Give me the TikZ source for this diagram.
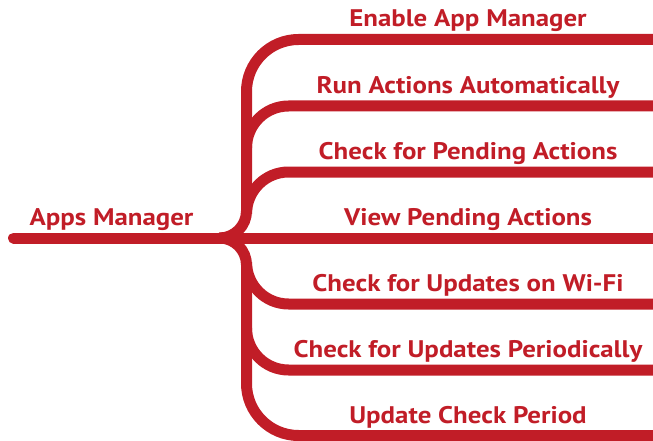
\documentclass[tikz,border=0pt]{standalone}
\usepackage{fontspec}
\setmainfont{PT Sans}[FakeStretch=1.12]
\definecolor{mapred}{RGB}{193,29,39}
\begin{document}
\begin{tikzpicture}[x=1pt,y=1pt,
  limb/.style={draw=mapred,line width=11pt},
  lbl/.style={text=mapred,font=\bfseries\fontsize{24}{28}\selectfont,anchor=base,inner sep=0pt}]
\useasboundingbox (0,0) rectangle (653,440);
\clip (0,0) rectangle (653,440);
\def\xT{246.5}
% main line
\coordinate (start) at (13.5,202);
\coordinate (mainend) at (665,202);
\draw[limb,line cap=round] (start) -- (mainend);
% upper trunk to top branch
\coordinate (ru) at (246.5-27,202);
\draw[limb] (ru) arc[start angle=270,end angle=360,radius=27] -- (\xT,400.5-52) arc[start angle=180,end angle=90,radius=52] -- (665,400.5);
% lower trunk to bottom branch
\coordinate (rl) at (246.5-27,202);
\draw[limb] (rl) arc[start angle=90,end angle=0,radius=27] -- (\xT,4.5+52) arc[start angle=180,end angle=270,radius=52] -- (665,4.5);
% inner branches
\coordinate (b2) at (\xT,334-42);
\coordinate (b3) at (\xT,268-42);
\coordinate (b5) at (\xT,136+42);
\coordinate (b6) at (\xT,70+42);
\draw[limb] (b2) arc[start angle=180,end angle=90,radius=42] -- (665,334);
\draw[limb] (b3) arc[start angle=180,end angle=90,radius=42] -- (665,268);
\draw[limb] (b5) arc[start angle=180,end angle=270,radius=42] -- (665,136);
\draw[limb] (b6) arc[start angle=180,end angle=270,radius=42] -- (665,70);
% labels
\node[lbl] (root) at (111.5,214.5) {Apps Manager};
\node[lbl] (t1) at (468,413) {Enable App Manager};
\node[lbl] (t2) at (468,346.5) {Run Actions Automatically};
\node[lbl] (t3) at (468,280.5) {Check for Pending Actions};
\node[lbl] (t4) at (468,214.5) {View Pending Actions};
\node[lbl] (t5) at (468,148.5) {Check for Updates on Wi-Fi};
\node[lbl] (t6) at (468,82.5) {Check for Updates Periodically};
\node[lbl] (t7) at (468,17) {Update Check Period};
\end{tikzpicture}
\end{document}
